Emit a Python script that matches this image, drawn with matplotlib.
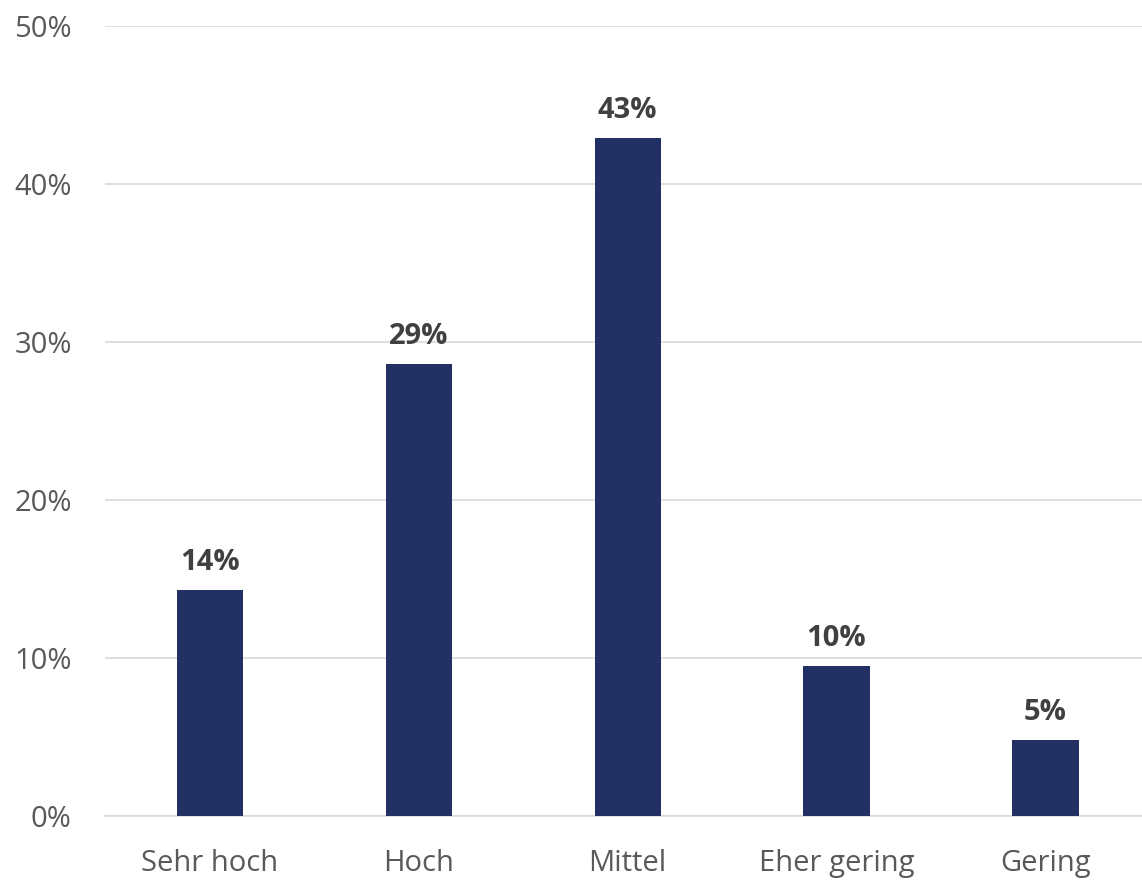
import numpy as np
import matplotlib.pyplot as plt

# data
categories = ["Sehr hoch", "Hoch", "Mittel", "Eher gering", "Gering"]
values = [14.3, 28.6, 42.9, 9.5, 4.8]
value_labels = ["14%", "29%", "43%", "10%", "5%"]

plt.rcParams['font.family'] = ['Open Sans', 'DejaVu Sans']

fig = plt.figure(figsize=(11.42, 8.81), dpi=100)
# axes runs slightly past the right edge, like the source crop
ax = fig.add_axes([0.092, 0.074, 0.915, 0.897])

x = np.arange(len(categories))
bars = ax.bar(x, values, width=0.316, color="#223064", zorder=3)

for b, lab in zip(bars, value_labels):
    ax.annotate(lab, (b.get_x() + b.get_width() / 2, b.get_height()),
                xytext=(0, 14.5), textcoords="offset points",
                ha="center", va="baseline", fontsize=21, fontweight="bold",
                color="#404040")

ax.set_xlim(-0.5, 4.5)
ax.set_ylim(0, 50)
ax.set_yticks([0, 10, 20, 30, 40, 50])
ax.set_yticklabels(["0%", "10%", "20%", "30%", "40%", "50%"])
ax.set_xticks(x)
ax.set_xticklabels(categories)
ax.tick_params(axis="both", length=0, labelsize=21, colors="#595959")
ax.tick_params(axis="y", pad=24)
ax.tick_params(axis="x", pad=24)

ax.grid(axis="y", color="#d9d9d9", linewidth=1.2, zorder=0)
for s in ["top", "right", "left"]:
    ax.spines[s].set_visible(False)
ax.spines["bottom"].set_color("#d9d9d9")
ax.spines["bottom"].set_linewidth(1.2)

fig.savefig("out.png", dpi=100)
